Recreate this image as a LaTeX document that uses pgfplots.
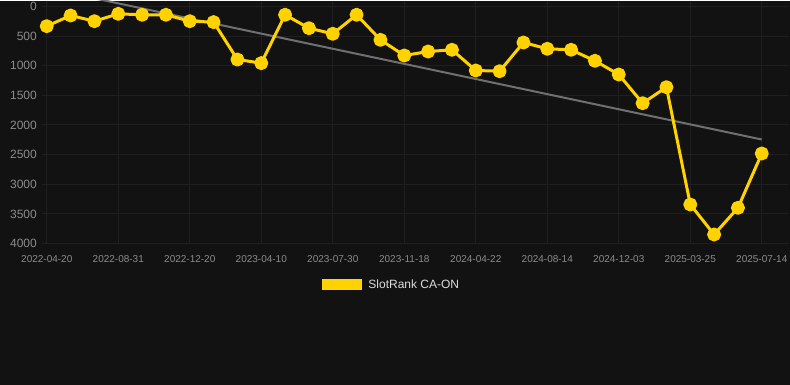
\documentclass[border=0pt]{standalone}
\usepackage{pgfplots}
\pgfplotsset{compat=1.18}
\usepackage{fontspec}
\setmainfont{Liberation Sans}
\definecolor{bg}{HTML}{121212}
\definecolor{gridc}{HTML}{1F1F1F}
\definecolor{ylw}{HTML}{FFD200}
\definecolor{trend}{HTML}{707070}
\definecolor{tickc}{HTML}{8C8C8C}
\definecolor{legc}{HTML}{DDDDDD}
\begin{document}
\begin{tikzpicture}
\fill[bg] (0pt,0pt) rectangle (790pt,384pt);
\begin{axis}[
  at={(42pt,141pt)}, anchor=south west,
  scale only axis, width=746pt, height=243pt,
  xmin=-0.2, xmax=31.1,
  ymin=-101, ymax=4000, y dir=reverse,
  axis line style={draw=none},
  major tick length=0pt,
  xtick={0,3,...,30},
  xticklabels={2022-04-20,2022-08-31,2022-12-20,2023-04-10,2023-07-30,2023-11-18,2024-04-22,2024-08-14,2024-12-03,2025-03-25,2025-07-14},
  ytick={0,500,...,4000},
  scaled y ticks=false,
  /pgf/number format/.cd, 1000 sep={}, assume math mode=true, /pgfplots/.cd,
  xmajorgrids, ymajorgrids,
  grid style={draw=gridc, line width=1pt},
  xticklabel style={font=\fontsize{10}{12}\selectfont, text=tickc, anchor=north, inner sep=0pt, yshift=-12pt},
  yticklabel style={font=\fontsize{12}{14}\selectfont, text=tickc, anchor=east, inner sep=0pt, xshift=-5pt},
  legend style={at={(axis description cs:0.4685,-0.169)}, anchor=center, draw=none, fill=none, text=legc, font=\fontsize{12}{14}\selectfont},
  legend image code/.code={\path[fill=ylw, draw=none, line width=0pt] (0pt,-5.5pt) rectangle (40pt,5.5pt); \path (43pt,0pt);},
]
\addplot[draw=trend, line width=2pt, forget plot] coordinates {(0,-308) (30,2245)};
\addplot[color=ylw, line width=3pt, line join=round, mark=*, mark size=5.5pt, mark options={solid, fill=ylw, draw=none}] coordinates {
(0,332) (1,152) (2,248) (3,124) (4,140) (5,140) (6,248) (7,264) (8,895) (9,956)
(10,140) (11,366) (12,461) (13,140) (14,563) (15,827) (16,760) (17,731) (18,1080) (19,1092)
(20,608) (21,714) (22,731) (23,917) (24,1148) (25,1632) (26,1362) (27,3342) (28,3848) (29,3398) (30,2481)
};
\addlegendentry{SlotRank CA-ON}
\end{axis}
\end{tikzpicture}
\end{document}
